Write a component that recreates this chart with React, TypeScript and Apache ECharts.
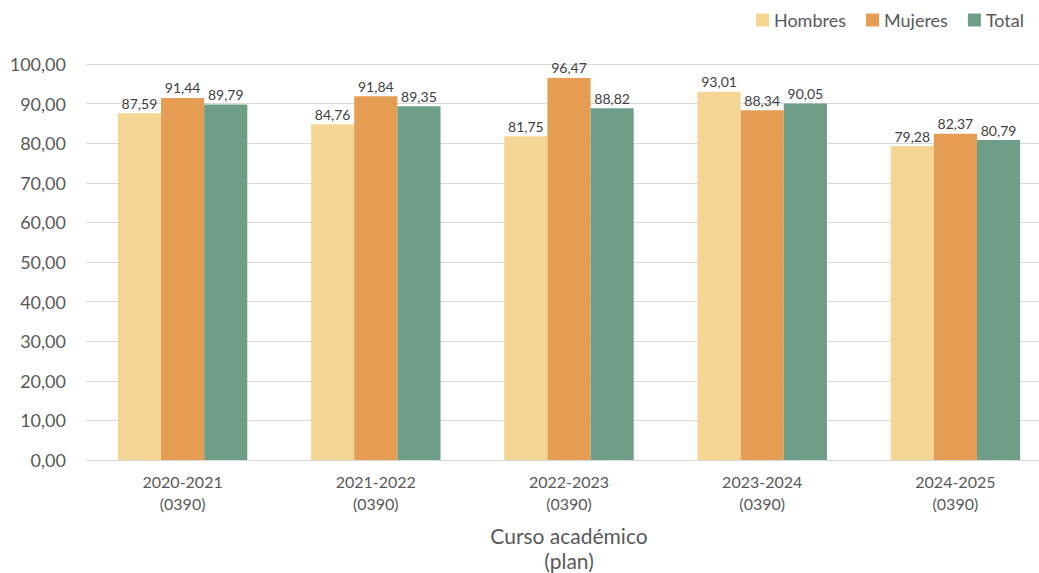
import React, { useEffect, useRef } from "react";
import * as echarts from "echarts";

const categories = ["2020-2021\n(0390)", "2021-2022\n(0390)", "2022-2023\n(0390)", "2023-2024\n(0390)", "2024-2025\n(0390)"];
const hombres = [87.59, 84.76, 81.75, 93.01, 79.28];
const mujeres = [91.44, 91.84, 96.47, 88.34, 82.37];
const total = [89.79, 89.35, 88.82, 90.05, 80.79];

const fmt = (v: number) => v.toFixed(2).replace(".", ",");
const FONT = "Lato, 'Open Sans', sans-serif";

export default function App() {
  const ref = useRef<HTMLDivElement>(null);
  useEffect(() => {
    if (!ref.current) return;
    const chart = echarts.init(ref.current, undefined, { renderer: "svg" });
    const mk = (name: string, data: number[], color: string) => ({
      name,
      type: "bar",
      data,
      barGap: "0%",
      barCategoryGap: "33%",
      itemStyle: { color },
      label: {
        show: true,
        position: "top",
        distance: 3,
        formatter: (p: any) => fmt(p.value),
        color: "#404040",
        fontSize: 14,
        fontFamily: FONT,
      },
    });
    chart.setOption({
      animation: false,
      textStyle: { fontFamily: FONT },
      legend: {
        top: 6,
        right: 10,
        itemWidth: 13,
        itemHeight: 13,
        itemGap: 20,
        icon: "rect",
        textStyle: { fontSize: 18, color: "#595959", fontFamily: FONT },
        data: ["Hombres", "Mujeres", "Total"],
      },
      grid: { left: 86, right: -13, top: 64, bottom: 113, containLabel: false, outerBoundsMode: "none" },
      xAxis: {
        type: "category",
        data: categories,
        axisLine: { lineStyle: { color: "#D9D9D9", width: 1 } },
        axisTick: { show: false },
        axisLabel: { color: "#595959", fontSize: 16, lineHeight: 22, margin: 10, fontFamily: FONT },
        name: "Curso académico\n(plan)",
        nameLocation: "middle",
        nameGap: 63,
        nameTextStyle: { color: "#595959", fontSize: 21, lineHeight: 25, fontFamily: FONT },
      },
      yAxis: {
        type: "value",
        min: 0,
        max: 100,
        interval: 10,
        axisLine: { show: false },
        axisTick: { show: false },
        splitLine: { lineStyle: { color: "#D9D9D9", width: 1 } },
        axisLabel: { color: "#595959", fontSize: 18, margin: 20, formatter: (v: number) => fmt(v), fontFamily: FONT },
      },
      series: [
        mk("Hombres", hombres, "#F5D594"),
        mk("Mujeres", mujeres, "#E49D53"),
        mk("Total", total, "#6F9E88"),
      ],
    });
    return () => chart.dispose();
  }, []);
  return <div ref={ref} style={{ position: "absolute", left: 0, top: 0, width: 1039, height: 573 }} />;
}
